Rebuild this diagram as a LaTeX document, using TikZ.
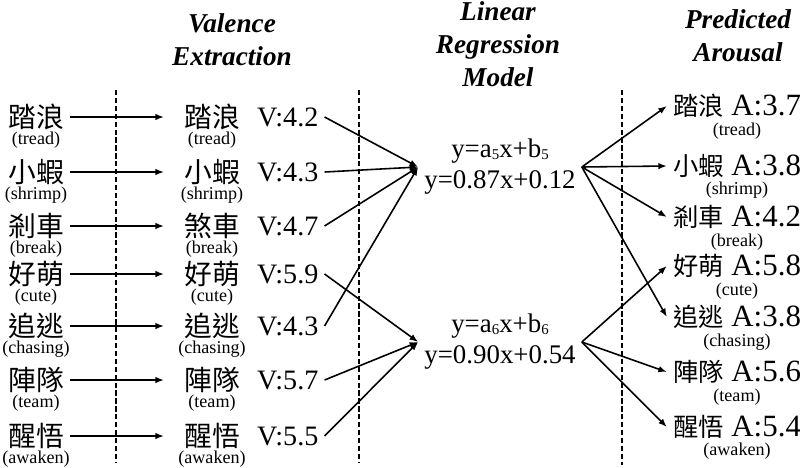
\documentclass[tikz,border=0pt]{standalone}
\usepackage{fontspec}
\setmainfont{Liberation Serif}
\newfontfamily\cjk{Noto Sans CJK TC}
\usetikzlibrary{positioning,arrows.meta}
\newcommand\ix[1]{{\fontsize{8.5}{9}\selectfont\raisebox{-1pt}{#1}}}
\newcommand\zh[1]{{\cjk\fontsize{14.4}{15}\selectfont #1}}

\begin{document}
\begin{tikzpicture}[x=0.02cm, y=-0.02cm,
    word/.style={font=\cjk\fontsize{15.8}{17}\selectfont},
    sub/.style={font=\fontsize{10.3}{11}\selectfont, inner sep=0pt, label distance=-2.5pt},
    psub/.style={sub, label distance=-1pt},
    val/.style={font=\fontsize{16}{18}\selectfont},
    pred/.style={font=\fontsize{17.6}{19}\selectfont},
    eqn/.style={font=\fontsize{15.3}{17.6}\selectfont, align=center},
    head/.style={font=\bfseries\itshape\fontsize{15.5}{18.7}\selectfont, align=center},
    arr/.style={-{Latex[length=1.7mm,width=1.3mm]}, line width=0.9pt},
    divider/.style={line width=0.8pt, dash pattern=on 3pt off 1.5pt},
  ]
  \useasboundingbox (0,0) rectangle (800,467);

  % column titles
  \node[head] (tval) at (232,40) {Valence\\Extraction};
  \node[head] (tlin) at (498,44) {Linear\\Regression\\Model};
  \node[head] (tpre) at (738,36) {Predicted\\Arousal};

  % dashed separators
  \draw[divider] (116,90) -- (116,462);
  \draw[divider] (359,90) -- (359,462);
  \draw[divider] (622,90) -- (622,465);

  % input words
  \node[word, label={[sub]below:(tread)}]   (w1) at (36,117) {踏浪};
  \node[word, label={[sub]below:(shrimp)}]  (w2) at (36,172) {小蝦};
  \node[word, label={[sub]below:(break)}]   (w3) at (36,226) {剎車};
  \node[word, label={[sub]below:(cute)}]    (w4) at (36,274) {好萌};
  \node[word, label={[sub]below:(chasing)}] (w5) at (36,326) {追逃};
  \node[word, label={[sub]below:(team)}]    (w6) at (36,380) {陣隊};
  \node[word, label={[sub]below:(awaken)}]  (w7) at (36,436) {醒悟};

  % valence extraction
  \node[word, label={[sub]below:(tread)}]   (m1) at (212,117) {踏浪};
  \node[word, label={[sub]below:(shrimp)}]  (m2) at (212,172) {小蝦};
  \node[word, label={[sub]below:(break)}]   (m3) at (212,226) {煞車};
  \node[word, label={[sub]below:(cute)}]    (m4) at (212,274) {好萌};
  \node[word, label={[sub]below:(chasing)}] (m5) at (212,326) {追逃};
  \node[word, label={[sub]below:(team)}]    (m6) at (212,380) {陣隊};
  \node[word, label={[sub]below:(awaken)}]  (m7) at (212,436) {醒悟};
  \node[val, right=1mm of m1] (v1) {V:4.2};
  \node[val, right=1mm of m2] (v2) {V:4.3};
  \node[val, right=1mm of m3] (v3) {V:4.7};
  \node[val, right=1mm of m4] (v4) {V:5.9};
  \node[val, right=1mm of m5] (v5) {V:4.3};
  \node[val, right=1mm of m6] (v6) {V:5.7};
  \node[val, right=1mm of m7] (v7) {V:5.5};

  % regression models
  \node[eqn] (eq5) at (500,167) {y=a\ix{5}x+b\ix{5}\\ y=0.87x+0.12};
  \node[eqn] (eq6) at (500,342) {y=a\ix{6}x+b\ix{6}\\ y=0.90x+0.54};

  % predicted arousal
  \node[pred, label={[psub]below:(tread)}]   (p1) at (737,106) {\zh{踏浪} A:3.7};
  \node[pred, label={[psub]below:(shrimp)}]  (p2) at (737,166) {\zh{小蝦} A:3.8};
  \node[pred, label={[psub]below:(break)}]   (p3) at (737,217) {\zh{剎車} A:4.2};
  \node[pred, label={[psub]below:(cute)}]    (p4) at (737,266) {\zh{好萌} A:5.8};
  \node[pred, label={[psub]below:(chasing)}] (p5) at (737,317) {\zh{追逃} A:3.8};
  \node[pred, label={[psub]below:(team)}]    (p6) at (737,372) {\zh{陣隊} A:5.6};
  \node[pred, label={[psub]below:(awaken)}]  (p7) at (737,427) {\zh{醒悟} A:5.4};

  \draw[arr, shorten >=8pt] (w1) -- (m1);
  \draw[arr, shorten >=8pt] (w2) -- (m2);
  \draw[arr, shorten >=8pt] (w3) -- (m3);
  \draw[arr, shorten >=8pt] (w4) -- (m4);
  \draw[arr, shorten >=8pt] (w5) -- (m5);
  \draw[arr, shorten >=8pt] (w6) -- (m6);
  \draw[arr, shorten >=8pt] (w7) -- (m7);

  \draw[arr] (v1.east) -- (eq5.west);
  \draw[arr] (v2.east) -- (eq5.west);
  \draw[arr] (v3.east) -- (eq5.west);
  \draw[arr] (v5.east) -- (eq5.west);
  \draw[arr] (v4.east) -- (eq6.west);
  \draw[arr] (v6.east) -- (eq6.west);
  \draw[arr] (v7.east) -- (eq6.west);

  \draw[arr] (eq5.east) -- (p1.west);
  \draw[arr] (eq5.east) -- (p2.west);
  \draw[arr] (eq5.east) -- (p3.west);
  \draw[arr] (eq5.east) -- (p5.west);
  \draw[arr] (eq6.east) -- (p4.west);
  \draw[arr] (eq6.east) -- (p6.west);
  \draw[arr] (eq6.east) -- (p7.west);
\end{tikzpicture}
\end{document}
